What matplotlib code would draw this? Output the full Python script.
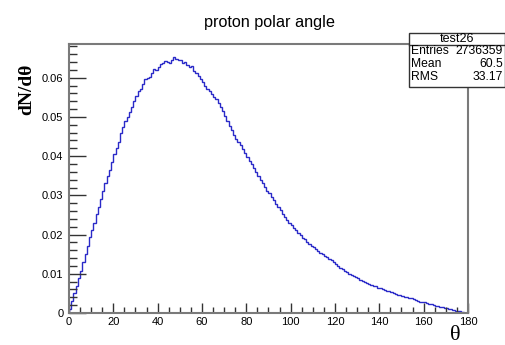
import numpy as np
import matplotlib
matplotlib.use("Agg")
import matplotlib.pyplot as plt
from matplotlib.patches import Rectangle
from matplotlib.ticker import MultipleLocator

# ---- data ----
bin_edges = list(range(0, 181))
counts = [
    0.0010, 0.0030, 0.0050, 0.0068, 0.0090, 0.0108, 0.0130, 0.0150, 0.0172, 0.0193,
    0.0212, 0.0230, 0.0252, 0.0270, 0.0291, 0.0310, 0.0332, 0.0350, 0.0365, 0.0384,
    0.0405, 0.0420, 0.0436, 0.0458, 0.0475, 0.0490, 0.0500, 0.0512, 0.0526, 0.0540,
    0.0553, 0.0565, 0.0572, 0.0585, 0.0596, 0.0600, 0.0603, 0.0612, 0.0622, 0.0620,
    0.0628, 0.0634, 0.0638, 0.0642, 0.0640, 0.0638, 0.0645, 0.0652, 0.0648, 0.0644,
    0.0645, 0.0638, 0.0640, 0.0633, 0.0628, 0.0630, 0.0618, 0.0612, 0.0605, 0.0598,
    0.0590, 0.0578, 0.0572, 0.0565, 0.0558, 0.0552, 0.0545, 0.0535, 0.0525, 0.0514,
    0.0502, 0.0490, 0.0478, 0.0466, 0.0455, 0.0445, 0.0436, 0.0428, 0.0418, 0.0408,
    0.0398, 0.0388, 0.0380, 0.0370, 0.0360, 0.0350, 0.0340, 0.0332, 0.0322, 0.0312,
    0.0305, 0.0296, 0.0288, 0.0278, 0.0270, 0.0262, 0.0252, 0.0245, 0.0238, 0.0230,
    0.0224, 0.0218, 0.0212, 0.0205, 0.0198, 0.0192, 0.0188, 0.0182, 0.0176, 0.0172,
    0.0168, 0.0163, 0.0158, 0.0153, 0.0150, 0.0146, 0.0142, 0.0138, 0.0134, 0.0130,
    0.0125, 0.0120, 0.0116, 0.0112, 0.0108, 0.0104, 0.0100, 0.0097, 0.0094, 0.0091,
    0.0088, 0.0085, 0.0082, 0.0080, 0.0077, 0.0075, 0.0072, 0.0070, 0.0068, 0.0065,
    0.0063, 0.0061, 0.0059, 0.0057, 0.0055, 0.0053, 0.0051, 0.0049, 0.0047, 0.0046,
    0.0044, 0.0042, 0.0040, 0.0038, 0.0037, 0.0035, 0.0033, 0.0031, 0.0029, 0.0028,
    0.0027, 0.0025, 0.0024, 0.0022, 0.0021, 0.0019, 0.0018, 0.0016, 0.0015, 0.0013,
    0.0012, 0.0011, 0.0009, 0.0008, 0.0006, 0.0005, 0.0004, 0.0002, 0.0001, 0.0000,
]
xticks = [0, 20, 40, 60, 80, 100, 120, 140, 160, 180]
yticks = [0, 0.01, 0.02, 0.03, 0.04, 0.05, 0.06]
ytick_labels = ["0", "0.01", "0.02", "0.03", "0.04", "0.05", "0.06"]
title = "proton polar angle"
stats_name = "test26"
stats_rows = [("Entries", "2736359"), ("Mean", "60.5"), ("RMS", "33.17")]

W, H = 506, 345
fig = plt.figure(figsize=(W / 100, H / 100), dpi=100)
fig.patch.set_facecolor("white")
sans = ["Liberation Sans", "DejaVu Sans"]
serif = ["Liberation Serif", "DejaVu Serif"]

ax = fig.add_axes([69 / W, 1 - 313 / H, (468 - 69) / W, (313 - 44) / H])
ax.stairs(counts, bin_edges, color="#2a2ac8", linewidth=1.0)
ax.set_xlim(0, 180)
ax.set_ylim(0, 0.0686)

frame_c = "#7a7a7a"
for s in ax.spines.values():
    s.set_color(frame_c)
    s.set_linewidth(1.5)

ax.set_xticks(xticks)
ax.set_xticklabels([str(v) for v in xticks], fontfamily=sans, fontsize=8)
ax.set_yticks(yticks)
ax.set_yticklabels(ytick_labels, fontfamily=sans, fontsize=8)
ax.xaxis.set_minor_locator(MultipleLocator(5))
ax.yaxis.set_minor_locator(MultipleLocator(0.002))
ax.tick_params(axis="x", which="major", direction="in", length=7, width=1, color="#333333", pad=3, top=False)
ax.tick_params(axis="x", which="minor", direction="in", length=4, width=1, color="#333333", top=False)
ax.tick_params(axis="y", which="major", direction="in", length=12, width=1, color="#333333", pad=4, right=False)
ax.tick_params(axis="y", which="minor", direction="in", length=6, width=1, color="#333333", right=False)

fig.text(269 / W, 1 - 22 / H, title, ha="center", va="center", fontsize=11.7, fontfamily=sans)
fig.text(27 / W, 1 - 89 / H, "dN/d\u03b8", ha="center", va="center", rotation=90,
         fontsize=14, fontweight="bold", fontfamily=serif)
fig.text(455 / W, 1 - 335 / H, "\u03b8", ha="center", va="center", fontsize=16, fontfamily=serif)

# stats box
x0, x1 = 409 / W, 505 / W
ytop, ysep, ybot = 1 - 33 / H, 1 - 45 / H, 1 - 87 / H
fig.add_artist(Rectangle((x0, ybot), x1 - x0, ytop - ybot, transform=fig.transFigure,
                         facecolor="white", edgecolor="#333333", linewidth=1, zorder=5))
fig.add_artist(plt.Line2D([x0, x1], [ysep, ysep], transform=fig.transFigure,
                          color="#333333", linewidth=1, zorder=6))
fig.text((x0 + x1) / 2, 1 - 39 / H, stats_name, ha="center", va="center", fontsize=9,
         fontfamily=sans, zorder=7)
for i, (k, v) in enumerate(stats_rows):
    yy = 1 - (51 + 13 * i) / H
    fig.text(411 / W, yy, k, ha="left", va="center", fontsize=8.7, fontfamily=sans, zorder=7)
    fig.text(503 / W, yy, v, ha="right", va="center", fontsize=8.7, fontfamily=sans, zorder=7)

fig.savefig("out.png", dpi=100, facecolor="white")
